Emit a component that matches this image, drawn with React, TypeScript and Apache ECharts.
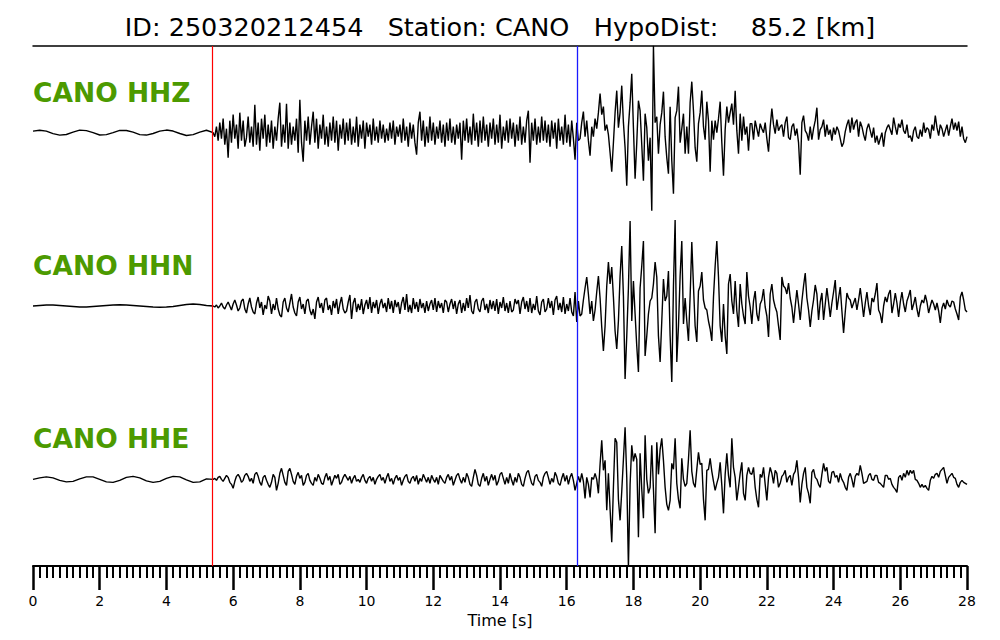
import React, { useEffect, useRef } from "react";
import * as echarts from "echarts";

// ---- metadata ----
const TITLE = "ID: 250320212454   Station: CANO   HypoDist:    85.2 [km]";
const STATION = "CANO";
const CHANNELS = ["HHZ", "HHN", "HHE"];
const P_PICK = 5.37; // s (red)
const S_PICK = 16.32; // s (blue)
const X_MIN = 0;
const X_MAX = 28;
const X_INTERVAL = 2;
const PRE_DT = 0.2; // sampling of the pre-event part, s
const MAIN_T0 = 5.4; // start of densely sampled part, s
const MAIN_DT = 0.05; // s
const AMP_PER_SLOT = 173.33; // amplitude units per trace slot

// ---- HHZ ----
const HHZ_PRE = [1.5, 2.4, 1.5, -1, -2.5, -1.8, 0.5, 2.5, 2, 0, -2.3, -2, 0, 2.3, 2.2, 0.5, -2, -2.4, -0.8, 1.5, 2.6, 1.6, -0.8, -2.8, -2, 0.5, 2.4];
const HHZ_MAIN = [
  0, -4, 6, -8, 10, -6, 14, -12, 4, -25, 12, -10, 18, -6, 8, -16, 20, -8, 12, -14,
  -5, 16, -10, 6, -14, 28, -12, 10, -18, 14, -6, 18, -14, 8, -10, 12, -16, 6, -8, 14,
  30, -14, 8, -10, 29, -16, 10, -12, 6, -8, 14, -20, 33, -10, -29, 12, -8, 16, -12, 6,
  21, -10, 14, -16, 8, -6, 18, -12, 6, -14, 10, -8, 16, -10, 12, -18, 8, -6, 14, -12,
  10, -8, 14, -12, 6, -10, 16, -14, 8, -6, 12, -16, 10, -4, 8, -12, 14, -8, 6, -10,
  12, -6, 8, -10, 4, -8, 10, -6, 12, -12, 6, -4, 8, -10, 14, -8, 6, -14, 10, -6,
  8, -10, -22, 10, 21, -8, 12, -14, 6, -10, 16, -8, 10, -12, 6, -6, 12, -10, 8, -14,
  10, -8, 14, -10, 6, -12, 8, -6, 10, -27, 12, -8, 14, -10, 6, -12, 19, -8, 10, -14,
  12, -10, 16, -8, 8, -14, 10, -6, 14, -12, 8, -10, 18, -16, 6, -8, 12, -10, 14, -6,
  10, -14, 8, -8, 16, -12, 6, -10, 12, 22, -30, 10, -8, 14, -12, 6, -10, 16, -8, 12,
  -10, 8, -14, 12, -6, 10, -16, 14, -8, 6, -12, 18, -10, 8, -14, 12, -6, -27, 10, -8,
  -6, 10, 21, -4, 12, -8, -23, 6, -4, 14, 4, 20, 39, 18, 26, 2, 8, -2, -20, -39,
  -10, 20, 42, 5, 20, 47, 10, -15, -53, 6, 30, 59, 5, -46, -10, 32, 22, -12, -48, 19,
  5, -28, -5, -78, 87, 10, 16, -21, 8, 20, 41, -4, -25, -41, 26, -28, -61, 15, 22, 46,
  -10, 4, 19, -21, 6, -21, 30, 51, 22, -15, -29, 9, 20, 42, 6, -7, 31, 12, -39, 12,
  -7, 12, 0, 14, 31, -10, -43, 3, 26, 10, 20, 29, 8, 42, 2, -21, 19, -8, 16, -2,
  6, -18, 9, 9, -7, 12, 4, -4, 9, 4, 0, 10, -6, -19, 6, 24, 8, -1, 13, 2,
  6, 8, -4, 10, 16, -5, -7, 6, 9, -3, 4, -10, -42, 10, 17, 2, -1, -8, 6, -7,
  4, 12, 25, -7, 3, 6, 13, -4, 8, -2, 3, -8, 5, -2, 6, 2, -6, -14, -10, 1,
  8, 13, 0, 15, 3, 10, 13, -4, 11, 6, -2, -8, 4, 9, 2, -5, 5, -10, -3, -12,
  -6, 0, -14, 0, 5, 8, 3, -2, 15, 6, -2, 9, 5, 13, 2, -1, 8, -5, -3, -9,
  2, 6, -4, -6, 3, -4, 10, 0, 5, 3, -6, 8, 2, 17, 5, -3, 8, 4, -4, 2,
  8, -3, 6, 14, 3, 10, 2, 11, -4, 6, -6, -10, -4,
];

// ---- HHN ----
const HHN_PRE = [0, 0.5, 1, 1, 0.5, 0, -0.5, -1, -1, -0.5, 0, 0.5, 1, 1.2, 1, 0.5, 0, -0.5, -1, -1.2, -1, -0.5, 0.5, 1.5, 2, 1.5, 0.5];
const HHN_MAIN = [
  0, -1, 1, -2, 0, 3, -1, -3, 1, 4, 0, -4, 2, 6, 1, -5, -2, 5, 7, -3,
  -7, 2, 8, -1, -6, -8, 3, 9, -2, 4, -9, 1, -3, 10, 5, -8, 2, -4, 8, -3,
  -9, -11, 4, 8, -2, -6, 3, 12, -1, -7, -10, 4, 9, -3, 2, -8, 5, 7, -4, -9,
  -3, -13, 4, 9, -2, 3, -7, 6, 8, -4, 1, -9, 5, -2, 7, -8, 2, 9, -3, -7,
  -5, 4, 11, -13, 3, 8, -6, 2, -4, 7, -8, 1, 6, -3, 9, -7, 4, -2, 6, -8,
  2, 7, -2, 3, -6, 8, -3, 5, -7, 6, -1, 4, -8, 3, 9, -4, 12, -6, 1, -7,
  8, -3, 4, -6, 7, -2, 3, -7, 5, -5, 2, 6, -4, 8, -6, 5, -2, 3, -7, 6,
  4, -6, 2, 7, -3, 5, -8, 2, 6, -7, 3, -5, 8, -2, 11, -5, -8, 4, 7, -3,
  -6, 5, 8, -4, 2, -7, 6, -3, 5, -5, 7, -8, 4, -2, 9, -5, 3, -7, 5, -6,
  -4, 7, 2, 6, -8, 4, 9, -3, 5, -6, 8, -7, 2, -4, 10, -5, -9, 4, 7, -6,
  -3, 8, -2, 5, -9, 6, 10, -4, 3, -6, 9, -8, 2, -5, 8, -6, -10, 14, -16, 5,
  -10, -8, 6, 18, 29, 12, -8, 5, -15, -4, 14, 30, 8, -21, -45, -20, 20, 44, 22, 39,
  9, -25, -43, -15, 30, 60, 10, -73, -30, 18, 85, -15, 25, -8, -40, -66, 18, 40, 65, -50,
  -30, -8, 5, 8, 22, 44, 29, -30, -56, -15, 27, 5, 10, 35, -30, -76, 20, 86, -56, -20,
  30, 65, -18, 8, -15, -35, 10, 64, 20, -20, -36, 15, 20, 34, 6, -2, -4, -15, -23, -35,
  9, 40, 65, 29, -20, -36, 2, -30, -48, 22, 32, 5, -8, 25, -5, -21, 22, 2, -10, -18,
  34, 10, -1, -18, 5, 15, -8, -15, 2, 6, 17, -1, -10, -31, 12, 22, 6, -1, -6, -20,
  -34, 29, 20, 18, 12, 23, 8, -1, -17, 0, 16, 2, -14, 5, 20, 33, 8, -4, -21, -5,
  6, 21, 12, -14, 4, 13, -14, 2, 18, 4, -11, 3, 14, 26, -4, 8, 19, -5, -27, -6,
  13, 8, 6, -2, 3, 8, -4, 6, 18, 4, -11, 3, 14, 0, -9, 8, 4, 12, 23, -4,
  -8, -17, 0, 9, 4, 12, 16, -7, 2, 13, 3, -11, 4, 14, 2, -6, 5, 10, 16, -4,
  2, 9, -3, -11, 0, 6, 3, 11, 4, -7, 0, 6, 2, -4, 3, -5, -17, -2, 3, -3,
  6, 1, -1, 5, 4, -3, -8, -14, 9, 14, 6, -4, -6,
];

// ---- HHE ----
const HHE_PRE = [0, 1.5, 2.5, 1.5, -1, -2.5, -2, 0.5, 2.5, 2.5, 0, -2.5, -3, -1, 2, 3, 1.5, -1.5, -3, -2, 1, 3, 2.5, -0.5, -3, -2.5, 0.5];
const HHE_MAIN = [
  0, 1, -1, 2, 3, 0, -2, 1, 4, 2, -3, -5, -9, -2, 3, 5, 2, -3, -1, 4,
  6, 3, -2, 1, -4, 5, 7, 3, -3, -6, 2, 4, -1, -5, -8, -3, 5, 2, -11, -4,
  6, 11, 4, -3, -6, 8, 11, 5, -2, -5, 3, 7, 1, 4, -6, -3, 4, 6, -1, -4,
  -6, 2, -2, 5, 1, -4, -5, 2, 6, -1, 3, -6, -1, 4, 1, 5, -5, -3, 2, 5,
  2, -1, 3, -4, 1, 4, -2, 0, -3, 2, 5, -1, -4, 1, 3, -2, 2, -5, 0, 3,
  5, -1, 2, -4, 2, 6, -2, 1, -5, 1, 4, -1, 2, -6, -1, 3, 5, -2, -4, 1,
  3, -2, 4, -5, 1, -2, 5, 1, -3, 2, -4, 4, 0, -3, 2, -5, 4, 1, -2, -4,
  2, 5, -1, 3, -6, -1, 4, 6, 0, -4, 2, -3, 6, 2, -5, -7, 2, 10, 4, -5,
  -7, 1, 6, -2, 3, -6, 0, 5, -1, 4, -6, -2, 5, 7, 1, -5, 2, -4, 6, -1,
  -6, 2, -3, 6, 2, -5, -7, 1, 7, 9, 2, -4, -6, 3, 5, -1, -3, -7, 2, 6,
  8, 2, -5, 1, -3, 7, 3, -4, -6, 1, 6, -2, 4, -5, 2, 6, -1, -11, -4, 3,
  -3, 6, -2, -19, 2, -5, -18, 2, 0, 6, 0, -14, 15, 39, 9, 19, -31, 6, -30, -63,
  -8, 41, 37, -20, -41, -12, 20, 52, 2, -88, -5, 34, 18, 26, 20, -58, 26, -10, -39, 44,
  0, -14, -8, 34, -10, -54, 37, 5, 30, 41, 19, -8, -25, -31, -21, 16, 10, 41, -4, -20,
  -29, 21, 0, -7, -4, 20, 49, 8, -4, -8, 10, 27, 15, 16, -20, -41, 9, 10, 21, 8,
  -2, -11, -4, 2, 17, -6, -34, 5, 26, 4, -8, 41, 12, 2, -21, -8, 6, 17, -14, -21,
  4, 12, 6, 5, 12, -8, -20, -28, 5, 2, 12, -5, -21, 2, 12, 6, -4, 9, 6, -8,
  -4, 3, 5, 9, -3, 2, 4, -6, 5, 8, 19, 2, -23, -5, 6, 12, -8, -14, -24, 7,
  10, 2, 0, -5, -8, 5, 16, 8, 12, -2, -4, 7, 8, 2, 4, -3, 6, 0, -3, -8,
  -11, 2, 6, 0, -8, 3, 6, 4, 14, 6, -4, -3, -2, 4, 6, 0, -1, 4, 4, -3,
  -4, -6, -8, 4, 4, 0, 1, -5, -8, -10, -13, 2, 4, -1, 6, 2, 9, 4, 9, 6,
  9, 0, -1, -4, -8, -5, -8, -6, -9, -11, -1, 3, 1, 5, 6, 2, 8, 10, 12, 4,
  -4, 2, 4, 6, 2, 1, -5, -8, -3, -1, -3, -4, -5,
];

const TRACES = [
  { pre: HHZ_PRE, main: HHZ_MAIN },
  { pre: HHN_PRE, main: HHN_MAIN },
  { pre: HHE_PRE, main: HHE_MAIN },
];

const FONT = "DejaVu Sans";
const LABEL_GREEN = "#4c9a00";

function buildTrace(pre: number[], main: number[], base: number): number[][] {
  const pts: number[][] = [];
  pre.forEach((v, i) => pts.push([+(i * PRE_DT).toFixed(3), base + v / AMP_PER_SLOT]));
  main.forEach((v, i) => pts.push([+(MAIN_T0 + i * MAIN_DT).toFixed(3), base + v / AMP_PER_SLOT]));
  return pts;
}

export default function App() {
  const ref = useRef<HTMLDivElement>(null);
  useEffect(() => {
    if (!ref.current) return;
    const chart = echarts.init(ref.current, undefined, { renderer: "svg" });
    const n = CHANNELS.length;
    const series: any[] = TRACES.map((tr, k) => ({
      type: "line",
      name: `${STATION} ${CHANNELS[k]}`,
      data: buildTrace(tr.pre, tr.main, n - k - 0.5),
      showSymbol: false,
      symbol: "none",
      lineStyle: { color: "#000", width: 1.4 },
      clip: true,
      silent: true,
      z: 3,
    }));
    series[0].markLine = {
      silent: true,
      symbol: "none",
      label: { show: false },
      z: 4,
      data: [
        { xAxis: P_PICK, lineStyle: { color: "#ff0000", width: 1.2, type: "solid" } },
        { xAxis: S_PICK, lineStyle: { color: "#1a1aff", width: 1.3, type: "solid" } },
      ],
    };

    const gridTop = 46;
    const gridBottom = 74;
    const slotH = (640 - gridTop - gridBottom) / n;
    const graphics = CHANNELS.map((ch, k) => ({
      type: "text",
      left: 33,
      top: gridTop + slotH * k + slotH / 2 - 41 - 13,
      style: {
        text: `${STATION} ${ch}`,
        fill: LABEL_GREEN,
        font: `bold 26.5px "${FONT}"`,
      },
    }));

    chart.setOption({
      animation: false,
      title: {
        text: TITLE,
        left: "center",
        top: 12,
        padding: 0,
        textStyle: { fontFamily: FONT, fontSize: 25.5, fontWeight: "normal", color: "#000", lineHeight: 30 },
      },
      grid: { left: 33, right: 33, top: gridTop, bottom: gridBottom, containLabel: false },
      xAxis: [
        {
          type: "value",
          min: X_MIN,
          max: X_MAX,
          interval: X_INTERVAL,
          position: "bottom",
          name: "Time [s]",
          nameLocation: "middle",
          nameGap: 40,
          nameTextStyle: { fontFamily: FONT, fontSize: 16, color: "#000" },
          axisLine: { show: true, onZero: false, lineStyle: { color: "#000", width: 2 } },
          axisTick: { show: true, inside: false, length: 24, lineStyle: { color: "#000", width: 2.5 } },
          minorTick: { show: true, splitNumber: 10, length: 12, lineStyle: { color: "#000", width: 2 } },
          axisLabel: { fontFamily: FONT, fontSize: 14, color: "#000", margin: 28 },
          splitLine: { show: false },
          minorSplitLine: { show: false },
        },
        {
          type: "value",
          min: X_MIN,
          max: X_MAX,
          position: "top",
          axisLine: { show: true, onZero: false, lineStyle: { color: "#000", width: 1.5 } },
          axisTick: { show: false },
          axisLabel: { show: false },
          splitLine: { show: false },
        },
      ],
      yAxis: {
        type: "value",
        min: 0,
        max: n,
        show: false,
        splitLine: { show: false },
      },
      series,
      graphic: graphics,
    });
    return () => chart.dispose();
  }, []);
  return <div ref={ref} style={{ position: "absolute", left: 0, top: 0, width: 1000, height: 640 }} />;
}
